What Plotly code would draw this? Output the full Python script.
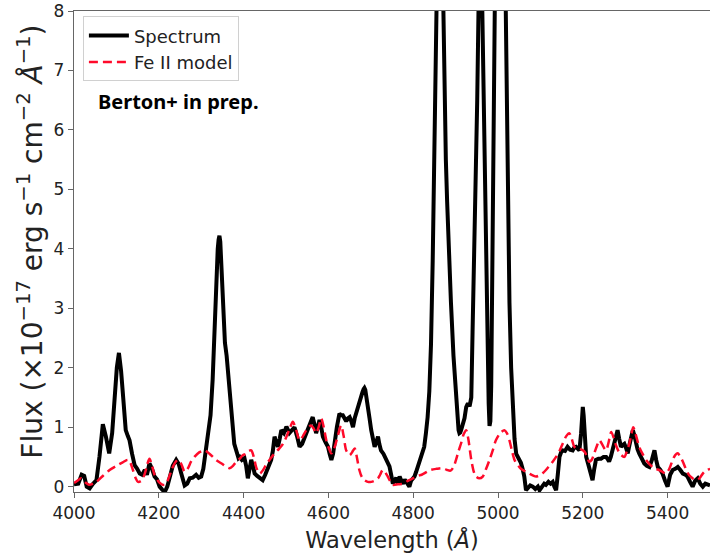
import plotly.graph_objects as go

# Spectrum (wavelength in Angstrom, flux in 1e-17 erg/s/cm2/A)
spec_wave = [4000, 4010, 4018, 4024, 4030, 4037, 4045, 4053, 4060, 4068, 4075, 4083, 4090, 4096, 4101, 4106,
             4111, 4116, 4122, 4127, 4131, 4137, 4143, 4149, 4155, 4161, 4167, 4172, 4178, 4184, 4190, 4196,
             4202, 4208, 4214, 4220, 4226, 4233, 4241, 4247, 4253, 4261, 4267, 4273, 4280, 4288, 4294, 4300,
             4305, 4310, 4316, 4322, 4327, 4331, 4335, 4339, 4341, 4343, 4345, 4347, 4350, 4353, 4356, 4360,
             4364, 4368,
             4373, 4378, 4383, 4388, 4391, 4396, 4402, 4406, 4410, 4414, 4418, 4422, 4426, 4432, 4438, 4445,
             4451, 4457, 4465, 4469, 4473, 4477, 4481, 4485, 4489, 4495, 4501, 4508, 4514, 4520, 4526, 4532,
             4538, 4544, 4550, 4556, 4563, 4567, 4571, 4575, 4579, 4583, 4587, 4593, 4599, 4603, 4607, 4611,
             4614, 4620, 4626, 4630, 4634, 4638, 4642, 4646, 4650, 4654, 4658, 4662, 4666, 4670, 4675, 4680,
             4683, 4685, 4687, 4689, 4693, 4697, 4701, 4705, 4709, 4713, 4717, 4720, 4724, 4730, 4736, 4740,
             4744, 4748,
             4752, 4756, 4760, 4764, 4768, 4772, 4776, 4780, 4783, 4787, 4791, 4795, 4799, 4803, 4807, 4811,
             4815, 4820, 4826, 4830, 4834, 4838, 4842, 4846, 4850, 4853, 4856, 4862, 4868, 4871, 4874, 4877,
             4880, 4884, 4889, 4895, 4901, 4905, 4907, 4909, 4911, 4913, 4917, 4921, 4925, 4929, 4933, 4937,
             4940, 4944,
             4947, 4951, 4955, 4959, 4963, 4966, 4969, 4973, 4976, 4978, 4980, 4982, 4984, 4987, 4991, 4995,
             5001, 5007,
             5013, 5018, 5021, 5024, 5027, 5031, 5035, 5039, 5043, 5047, 5051, 5054, 5058, 5062, 5066, 5071,
             5076, 5082, 5088, 5094, 5098, 5104, 5109, 5113, 5119, 5124, 5129, 5133, 5137, 5141, 5145, 5149,
             5153, 5158, 5164, 5170, 5176, 5180, 5184, 5188, 5192, 5196, 5198, 5200, 5202, 5204, 5208, 5212,
             5215, 5219,
             5223, 5227, 5231, 5237, 5243, 5249, 5255, 5259, 5262, 5266, 5270, 5276, 5282, 5286, 5290, 5294,
             5298, 5302, 5306, 5310, 5314, 5318, 5322, 5325, 5329, 5333, 5339, 5345, 5351, 5357, 5363, 5369,
             5373, 5377, 5383, 5388, 5394, 5400, 5406, 5412, 5418, 5424, 5430, 5436, 5442, 5447, 5453, 5459,
             5465, 5471, 5477, 5483, 5489, 5494, 5500]
spec_flux = [0.04, 0.05, 0.2, 0.18, 0.0, -0.03, 0.05, 0.11, 0.5, 1.05, 0.85, 0.56, 0.9, 1.51, 2.0, 2.25,
             1.95, 1.5, 0.95, 0.85, 0.78, 0.55, 0.36, 0.3, 0.22, 0.2, 0.28, 0.2, 0.39, 0.3, 0.17, 0.12,
             0.0, -0.05, -0.09, 0.0, 0.17, 0.35, 0.45, 0.38, 0.22, 0.02, 0.05, 0.14, 0.15, 0.2, 0.15, 0.17,
             0.3, 0.55, 0.8, 1.2, 1.8, 2.7, 3.5, 4.0, 4.15, 4.22, 4.12, 3.8, 3.1, 2.55, 2.42, 2.2,
             1.85, 1.5,
             1.0, 0.72, 0.6, 0.48, 0.5, 0.45, 0.48, 0.35, 0.14, 0.3, 0.45, 0.35, 0.22, 0.18, 0.14, 0.11,
             0.2, 0.33, 0.45, 0.6, 0.84, 0.75, 0.67, 0.8, 0.95, 0.9, 1.01, 0.9, 0.95, 1.0, 0.85, 0.67,
             0.72, 0.84, 0.95, 1.06, 1.17, 1.05, 0.9, 1.0, 1.12, 1.0, 0.84, 0.75, 0.67, 0.55, 0.45, 0.55,
             0.73, 1.0, 1.23, 1.2, 1.2, 1.15, 1.1, 1.15, 1.17, 1.1, 1.0, 1.15, 1.26, 1.35, 1.46, 1.58,
             1.64, 1.66, 1.63, 1.55, 1.4, 1.15, 0.95, 0.78, 0.67, 0.75, 0.84, 0.72, 0.61, 0.55, 0.45, 0.4,
             0.34, 0.2,
             0.05, 0.1, 0.15, 0.05, 0.17, 0.1, 0.05, 0.12, 0.08, 0.03, 0.0, 0.1, 0.14, 0.17, 0.25, 0.34,
             0.39, 0.5, 0.67, 0.9, 1.17, 1.6, 2.4, 3.8, 5.5, 7.0, 8.5, 12.0, 9.0, 7.5, 6.5, 5.5,
             4.8, 3.9, 3.1, 2.2, 1.46, 1.1, 0.95, 0.9, 0.91, 0.95, 1.05, 1.15, 1.34, 1.4, 1.35, 1.5,
             2.6, 3.8,
             4.8, 6.5, 8.5, 10.5, 8.0, 6.5, 5.2, 3.7, 2.3, 1.4, 1.02, 1.1, 1.7, 4.0, 7.5, 10.0,
             18.0, 25.0,
             14.0, 8.2, 6.0, 4.5, 3.1, 2.0, 1.2, 0.8, 0.55, 0.5, 0.45, 0.4, 0.3, 0.17, -0.06, -0.03,
             0.02, 0.0, -0.04, 0.0, -0.06, 0.0, 0.05, 0.03, 0.08, 0.05, 0.08, 0.0, -0.06, 0.2, 0.5, 0.58,
             0.61, 0.6, 0.67, 0.62, 0.61, 0.66, 0.67, 0.64, 0.61, 0.9, 1.2, 1.34, 1.2, 0.9, 0.5, 0.4,
             0.33, 0.2,
             0.11, 0.3, 0.45, 0.47, 0.47, 0.5, 0.5, 0.46, 0.42, 0.5, 0.61, 0.8, 0.95, 0.8, 0.67, 0.7,
             0.72, 0.65, 0.56, 0.7, 0.85, 0.95, 0.85, 0.72, 0.63, 0.56, 0.46, 0.39, 0.35, 0.33, 0.45, 0.61,
             0.45, 0.33, 0.28, 0.22, 0.1, 0.0, 0.2, 0.28, 0.3, 0.33, 0.28, 0.22, 0.2, 0.17, 0.08, 0.0,
             0.1, 0.14, 0.05, 0.0, 0.05, 0.03, 0.02]

# Fe II model
fe_wave = [4000, 4008, 4017, 4027, 4037, 4045, 4053, 4068, 4084, 4100, 4115, 4127, 4133, 4139, 4145, 4151,
           4159, 4167, 4173, 4178, 4184, 4190, 4200, 4207, 4214, 4222, 4230, 4238, 4245, 4253, 4261, 4268,
           4276, 4284, 4296, 4308, 4320, 4335, 4350, 4360, 4367, 4375, 4383, 4391, 4398, 4405, 4412, 4418,
           4424, 4430, 4438, 4446, 4453, 4461, 4472, 4484, 4493, 4501, 4509, 4516, 4524, 4532, 4540, 4548,
           4559, 4565, 4571, 4577, 4583, 4589, 4595, 4601, 4607, 4614, 4622, 4630, 4636, 4642, 4650, 4656,
           4662, 4667, 4673, 4679, 4685, 4693, 4701, 4709, 4717, 4722, 4728, 4734, 4740, 4746, 4752, 4764,
           4776, 4788, 4799, 4810, 4820, 4830, 4840, 4855, 4870, 4880, 4888, 4895, 4901, 4907, 4913, 4919,
           4925, 4930, 4937, 4943, 4948, 4956, 4964, 4972, 4980, 4988, 4995, 5005, 5015, 5021, 5027, 5033,
           5039, 5047, 5054, 5064, 5074, 5082, 5090, 5098, 5106, 5113, 5121, 5129, 5137, 5145, 5153, 5161,
           5168, 5174, 5180, 5186, 5192, 5198, 5204, 5210, 5215, 5221, 5227, 5233, 5239, 5245, 5251, 5255,
           5261, 5267, 5273, 5278, 5288, 5298, 5304, 5310, 5315, 5319, 5324, 5333, 5341, 5349, 5357, 5365,
           5372, 5380, 5388, 5396, 5404, 5412, 5418, 5424, 5430, 5436, 5443, 5451, 5459, 5467, 5475, 5483,
           5490, 5500]
fe_flux = [0.06, 0.1, 0.14, 0.07, 0.03, 0.05, 0.08, 0.18, 0.28, 0.35, 0.41, 0.45, 0.4, 0.28, 0.15, 0.08,
           0.1, 0.22, 0.38, 0.47, 0.35, 0.2, 0.08, 0.04, 0.03, 0.12, 0.28, 0.4, 0.45, 0.38, 0.25, 0.3,
           0.42, 0.5, 0.58, 0.61, 0.55, 0.45, 0.38, 0.33, 0.31, 0.35, 0.42, 0.47, 0.53, 0.55, 0.6, 0.61,
           0.5, 0.32, 0.22, 0.28, 0.37, 0.45, 0.55, 0.64, 0.72, 0.84, 0.98, 1.09, 0.95, 0.78, 0.85, 0.95,
           1.03, 0.98, 0.9, 1.0, 1.15, 1.0, 0.78, 0.65, 0.56, 0.65, 0.85, 1.03, 0.85, 0.61, 0.53, 0.58,
           0.64, 0.5, 0.28, 0.16, 0.11, 0.08, 0.08, 0.1, 0.14, 0.2, 0.28, 0.24, 0.17, 0.09, 0.03, 0.04,
           0.05, 0.1, 0.14, 0.18, 0.2, 0.24, 0.28, 0.3, 0.31, 0.28, 0.27, 0.33, 0.45, 0.6, 0.73, 0.88,
           0.95, 0.8, 0.45, 0.25, 0.17, 0.14, 0.17, 0.3, 0.45, 0.62, 0.78, 0.9, 0.95, 0.9, 0.78, 0.6,
           0.45, 0.36, 0.3, 0.26, 0.22, 0.19, 0.17, 0.19, 0.23, 0.28, 0.35, 0.42, 0.5, 0.6, 0.73, 0.85,
           0.9, 0.8, 0.67, 0.64, 0.64, 0.62, 0.59, 0.5, 0.42, 0.45, 0.56, 0.68, 0.78, 0.72, 0.64, 0.61,
           0.75, 0.92, 0.82, 0.7, 0.55, 0.5, 0.6, 0.73, 0.9, 1.0, 0.9, 0.67, 0.55, 0.45, 0.38, 0.33,
           0.3, 0.28, 0.25, 0.22, 0.3, 0.45, 0.53, 0.56, 0.5, 0.42, 0.3, 0.19, 0.14, 0.11, 0.14, 0.22,
           0.27, 0.3]

x_ticks = [4000, 4200, 4400, 4600, 4800, 5000, 5200, 5400]
y_ticks = [0, 1, 2, 3, 4, 5, 6, 7, 8]

FONT = "DejaVu Sans"

fig = go.Figure()
fig.add_trace(go.Scatter(x=spec_wave, y=spec_flux, mode="lines", name="Spectrum",
                         line=dict(color="black", width=4)))
fig.add_trace(go.Scatter(x=fe_wave, y=fe_flux, mode="lines", name="Fe II model",
                         line=dict(color="#ff0a2a", width=2.5, dash="9px,5px", shape="spline", smoothing=0.8)))

fig.add_annotation(text="<b>Berton+ in prep.</b>", xref="paper", yref="paper", x=0.035, y=0.811,
                   xanchor="left", yanchor="middle", showarrow=False,
                   font=dict(family="Noto Sans", size=20, color="black"))

# y-axis title placed as a rotated annotation for precise placement
fig.add_annotation(text="Flux (×10<sup>−17</sup> erg s<sup>−1</sup> cm<sup>−2</sup> <i>Å</i><sup>−1</sup>)",
                   xref="paper", yref="paper", x=-0.068, y=0.52, xanchor="center", yanchor="middle",
                   textangle=-90, showarrow=False, font=dict(family=FONT, size=28, color="#222"))

axis_common = dict(showline=True, linecolor="#666", linewidth=1.3, mirror=True, ticks="outside",
                   ticklen=5, tickwidth=1.2, tickcolor="#666", showgrid=False, zeroline=False,
                   tickfont=dict(family=FONT, size=17, color="#222"))

fig.update_xaxes(range=[4000, 5500], tickvals=x_ticks, ticktext=[str(v) for v in x_ticks],
                 title=dict(text="Wavelength (<i>Å</i>)", font=dict(family=FONT, size=22.5, color="#222"), standoff=10),
                 **axis_common)
fig.update_yaxes(range=[-0.09, 8], tickvals=y_ticks, ticktext=[str(v) for v in y_ticks],
                 **axis_common)

fig.update_layout(
    width=710, height=556,
    margin=dict(l=74, r=0, t=11, b=64),
    plot_bgcolor="white", paper_bgcolor="white",
    showlegend=True,
    legend=dict(x=0.014, y=0.989, xanchor="left", yanchor="top",
                bgcolor="rgba(255,255,255,0.85)", bordercolor="#d0d0d0", borderwidth=1,
                font=dict(family=FONT, size=18, color="#222"), itemwidth=40, tracegroupgap=0),
)

fig.write_html("out.html")
